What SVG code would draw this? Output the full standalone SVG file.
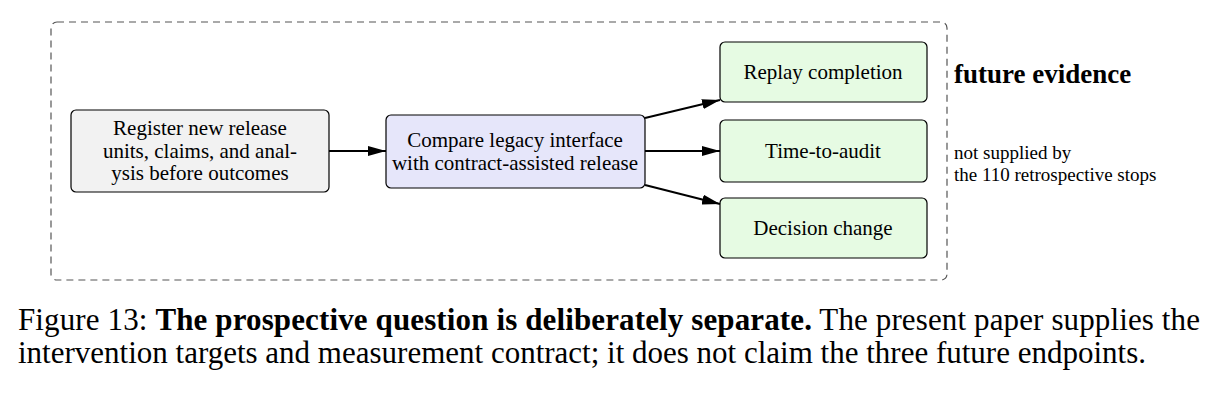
<svg xmlns="http://www.w3.org/2000/svg" width="1218" height="400" viewBox="0 0 1218 400">
<style>
text{font-family:"Liberation Serif","DejaVu Serif",serif;fill:#000}
.n{font-size:21px;text-anchor:middle}
.box{stroke:#000;stroke-width:1.2}
.c{stroke:#000;stroke-width:2;fill:none}
</style>
<defs><marker id="b" viewBox="0 0 10 10" refX="10" refY="5" markerWidth="18" markerHeight="10" markerUnits="userSpaceOnUse" orient="auto" preserveAspectRatio="none"><path d="M0,0L10,5L0,10z" fill="#000"/></marker></defs>
<rect x="51" y="22" width="896" height="258" rx="6" fill="none" stroke="#555" stroke-width="1.2" stroke-dasharray="7,5"/>
<g id="n1"><rect class="box" x="71" y="110" width="258" height="82" rx="5" fill="#f2f2f2"/><text class="n" x="200" y="135">Register new release</text><text class="n" x="200" y="158">units, claims, and anal-</text><text class="n" x="200" y="180">ysis before outcomes</text></g>
<g id="n2"><rect class="box" x="386" y="115" width="259" height="73" rx="5" fill="#e6e6fa"/><text class="n" x="515" y="147">Compare legacy interface</text><text class="n" x="515" y="170">with contract-assisted release</text></g>
<g id="n3"><rect class="box" x="720" y="42" width="207" height="60" rx="5" fill="#e6fbe3"/><text class="n" x="823" y="79">Replay completion</text></g>
<g id="n4"><rect class="box" x="720" y="120" width="207" height="62" rx="5" fill="#e6fbe3"/><text class="n" x="823" y="158">Time-to-audit</text></g>
<g id="n5"><rect class="box" x="720" y="198" width="207" height="60" rx="5" fill="#e6fbe3"/><text class="n" x="823" y="235">Decision change</text></g>
<g id="connectors">
<path class="c" d="M329,151H386" marker-end="url(#b)"/>
<path class="c" d="M645,118L720,100" marker-end="url(#b)"/>
<path class="c" d="M645,151H720" marker-end="url(#b)"/>
<path class="c" d="M645,185L720,204" marker-end="url(#b)"/>
</g>
<text x="954" y="83" font-size="27" font-weight="bold">future evidence</text>
<text x="954" y="159" font-size="19">not supplied by</text>
<text x="954" y="181" font-size="19">the 110 retrospective stops</text>
<text x="18" y="330" font-size="31" textLength="1182">Figure 13: <tspan font-weight="bold">The prospective question is deliberately separate.</tspan> The present paper supplies the</text>
<text x="18" y="363" font-size="31">intervention targets and measurement contract; it does not claim the three future endpoints.</text>
</svg>
